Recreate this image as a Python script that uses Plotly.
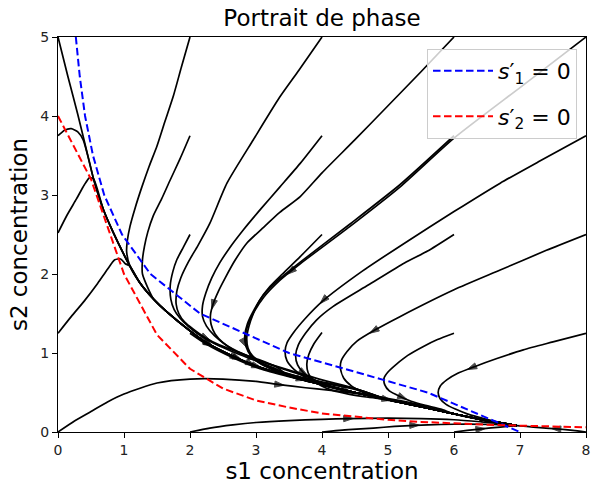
import numpy as np
import plotly.graph_objects as go

# ---------------- nullclines ----------------
null1_s1 = [0.27, 0.33, 0.41, 0.53, 0.70, 0.97, 1.40, 2.15, 3.50, 5.60, 7.00]
null1_s2 = [5.0, 4.5, 4.0, 3.5, 3.0, 2.5, 2.0, 1.5, 1.0, 0.5, 0.0]
null2_s1 = [0.0, 0.5, 1.0, 1.5, 2.0, 2.5, 3.0, 3.5, 4.0, 4.5, 5.0, 5.5, 6.0, 6.5, 7.0, 7.5, 8.0]
null2_s2 = [4.0, 3.2, 2.0, 1.23, 0.8, 0.55, 0.4, 0.31, 0.235, 0.19, 0.154, 0.128, 0.108, 0.092, 0.08, 0.07, 0.06]

# ---------------- shared converging bundle (trajectory from (0, 5)) ----------------
bundle_s1 = [0.0, 0.15, 0.3, 0.46, 0.54, 0.69, 0.84, 0.99, 1.09, 1.24, 1.45, 1.65, 2.0, 2.25, 2.65,
             3.06, 3.5, 4.0, 4.5, 5.0, 5.5, 6.0, 6.4, 6.75, 6.95]
bundle_s2 = [5.0, 4.5, 4.02, 3.47, 3.2, 2.81, 2.52, 2.26, 2.1, 1.89, 1.68, 1.52, 1.28, 1.13, 0.96,
             0.82, 0.71, 0.6, 0.5, 0.41, 0.32, 0.23, 0.16, 0.11, 0.08]

# ---------------- trajectory heads ----------------
# these run straight to the fixed point
t_2_0_s1 = [2.0, 2.3, 2.65, 3.0, 3.5, 4.0, 4.42, 5.0, 5.5, 6.0, 6.4, 6.75, 6.95]
t_2_0_s2 = [0.0, 0.05, 0.09, 0.12, 0.145, 0.16, 0.17, 0.175, 0.17, 0.155, 0.13, 0.105, 0.08]
t_4_0_s1 = [4.0, 4.4, 4.78, 5.1, 5.41, 5.8, 6.2, 6.6, 6.95]
t_4_0_s2 = [0.0, 0.03, 0.05, 0.07, 0.085, 0.095, 0.1, 0.095, 0.08]
t_6_0_s1 = [6.0, 6.2, 6.42, 6.7, 6.95]
t_6_0_s2 = [0.0, 0.02, 0.04, 0.062, 0.08]
t_8_0_s1 = [8.0, 7.8, 7.58, 7.3, 7.1, 6.95]
t_8_0_s2 = [0.0, 0.02, 0.038, 0.055, 0.07, 0.08]
t_8_125_s1 = [8.0, 7.5, 7.05, 6.65, 6.32, 6.05, 5.89, 5.79, 5.76, 5.79, 5.88, 6.02, 6.2, 6.45, 6.7, 6.95]
t_8_125_s2 = [1.25, 1.14, 1.04, 0.93, 0.83, 0.74, 0.66, 0.58, 0.5, 0.42, 0.35, 0.29, 0.23, 0.17, 0.12, 0.08]

# these merge into the bundle
t_0_0_s1 = [0, 0.25, 0.5, 0.75, 1.0, 1.5, 2.0, 2.5, 3.0, 3.35, 3.75, 4.1, 4.5, 4.9, 5.4, 5.9]
t_0_0_s2 = [0, 0.14, 0.26, 0.38, 0.48, 0.62, 0.67, 0.67, 0.64, 0.6, 0.56, 0.53, 0.49, 0.44, 0.36, 0.25]
t_0_125_s1 = [0, 0.2, 0.4, 0.6, 0.75, 0.86, 0.95, 1.02]
t_0_125_s2 = [1.25, 1.46, 1.66, 1.88, 2.06, 2.18, 2.19, 2.13]
t_0_25_s1 = [0, 0.14, 0.28, 0.4, 0.48]
t_0_25_s2 = [2.52, 2.75, 2.95, 3.13, 3.22]
t_0_375_s1 = [0, 0.1, 0.2, 0.3, 0.38]
t_0_375_s2 = [3.75, 3.82, 3.84, 3.8, 3.7]
t_2_5_s1 = [2.0, 1.87, 1.75, 1.62, 1.5, 1.38, 1.27, 1.17, 1.09, 1.05, 1.04]
t_2_5_s2 = [5.0, 4.62, 4.26, 3.93, 3.62, 3.36, 3.1, 2.84, 2.6, 2.42, 2.28]
t_2_375_s1 = [2.0, 1.85, 1.7, 1.57, 1.44, 1.36, 1.31, 1.28, 1.28]
t_2_375_s2 = [3.75, 3.46, 3.19, 2.95, 2.73, 2.53, 2.35, 2.18, 2.0]
t_2_25_s1 = [2.0, 1.9, 1.8, 1.74, 1.7, 1.71, 1.76, 1.85, 1.97, 2.12, 2.3, 2.5, 2.75, 3.0, 3.3]
t_2_25_s2 = [2.5, 2.34, 2.18, 2.03, 1.85, 1.68, 1.55, 1.44, 1.34, 1.24, 1.15, 1.07, 0.98, 0.9, 0.8]
t_2_125_s1 = [2.0, 2.25, 2.65, 3.06, 3.5]
t_2_125_s2 = [1.25, 1.11, 0.94, 0.8, 0.7]
t_4_5_s1 = [4.0, 3.65, 3.36, 2.96, 2.56, 2.3, 2.12, 1.98, 1.86, 1.8, 1.79, 1.83, 1.92, 2.05, 2.22,
            2.45, 2.7, 3.0, 3.3]
t_4_5_s2 = [5.0, 4.58, 4.24, 3.7, 3.15, 2.64, 2.36, 2.16, 1.95, 1.78, 1.62, 1.5, 1.39, 1.3, 1.2,
            1.1, 1.02, 0.93, 0.83]
t_4_375_s1 = [4.0, 3.67, 3.36, 3.08, 2.81, 2.6, 2.45, 2.33, 2.24, 2.19, 2.19, 2.25, 2.37, 2.55, 2.8,
              3.06, 3.4, 3.8]
t_4_375_s2 = [3.75, 3.4, 3.1, 2.83, 2.56, 2.33, 2.14, 1.95, 1.76, 1.6, 1.46, 1.34, 1.22, 1.1, 0.99,
              0.9, 0.8, 0.69]
t_4_25_s1 = [4.0, 3.67, 3.4, 3.21, 3.05, 2.96, 2.89, 2.86, 2.88, 2.95, 3.08, 3.3, 3.6, 4.0, 4.5]
t_4_25_s2 = [2.5, 2.22, 2.0, 1.84, 1.66, 1.5, 1.33, 1.19, 1.06, 0.96, 0.87, 0.79, 0.71, 0.63, 0.55]
t_4_125_s1 = [4.0, 3.88, 3.8, 3.77, 3.79, 3.86, 3.98, 4.15, 4.4, 4.7]
t_4_125_s2 = [1.26, 1.12, 0.98, 0.86, 0.75, 0.66, 0.59, 0.53, 0.48, 0.44]
t_6_5_s1 = [6.0, 5.5, 5.0, 4.5, 4.0, 3.67, 3.36, 3.1, 2.86, 2.68, 2.54, 2.43, 2.35, 2.31, 2.32, 2.38,
            2.5, 2.68, 2.9, 3.2, 3.6, 4.0, 4.5]
t_6_5_s2 = [5.0, 4.56, 4.13, 3.7, 3.28, 2.98, 2.78, 2.58, 2.39, 2.17, 1.96, 1.78, 1.62, 1.48, 1.36,
            1.24, 1.13, 1.03, 0.95, 0.86, 0.76, 0.66, 0.55]
t_6_375_s1 = [6.0, 5.18, 4.42, 3.67, 3.36, 3.11, 2.96, 2.87, 2.83, 2.85, 2.92, 3.04, 3.25, 3.55, 3.95, 4.5]
t_6_375_s2 = [3.75, 3.13, 2.63, 2.15, 1.94, 1.73, 1.53, 1.37, 1.22, 1.08, 0.97, 0.88, 0.79, 0.71, 0.63, 0.54]
t_6_25_s1 = [6.0, 5.6, 5.25, 4.7, 4.17, 3.92, 3.75, 3.64, 3.6, 3.63, 3.72, 3.88, 4.1, 4.4]
t_6_25_s2 = [2.5, 2.29, 2.14, 1.86, 1.59, 1.42, 1.25, 1.1, 0.97, 0.85, 0.75, 0.66, 0.59, 0.52]
t_6_125_s1 = [6.0, 5.75, 5.53, 5.3, 5.13, 5.0, 4.94, 4.95, 5.02, 5.18, 5.35, 5.55, 5.8]
t_6_125_s2 = [1.25, 1.17, 1.08, 0.97, 0.86, 0.76, 0.68, 0.6, 0.52, 0.45, 0.39, 0.34, 0.29]
t_8_5_s1 = [8.0, 7.0, 6.0, 5.18, 4.42, 3.67, 3.36, 3.12, 2.97, 2.88, 2.84, 2.86, 2.93, 3.05, 3.25,
            3.55, 3.95, 4.5]
t_8_5_s2 = [5.0, 4.36, 3.72, 3.1, 2.6, 2.13, 1.92, 1.71, 1.52, 1.36, 1.22, 1.08, 0.97, 0.88, 0.8,
            0.72, 0.64, 0.55]
t_8_375_s1 = [8.0, 7.3, 6.7, 6.0, 5.25, 4.6, 4.0, 3.75, 3.57, 3.47, 3.44, 3.47, 3.58, 3.75, 4.0, 4.3]
t_8_375_s2 = [3.75, 3.43, 3.15, 2.79, 2.39, 2.03, 1.65, 1.44, 1.26, 1.13, 1.02, 0.9, 0.79, 0.69, 0.6, 0.53]
t_8_25_s1 = [8.0, 7.4, 6.7, 6.0, 5.18, 4.8, 4.53, 4.38, 4.29, 4.28, 4.33, 4.45, 4.62, 4.83, 5.2, 5.55]
t_8_25_s2 = [2.5, 2.3, 2.05, 1.8, 1.46, 1.29, 1.15, 1.02, 0.9, 0.8, 0.68, 0.58, 0.5, 0.43, 0.37, 0.31]

direct = [(t_2_0_s1, t_2_0_s2), (t_4_0_s1, t_4_0_s2),
          (t_6_0_s1, t_6_0_s2), (t_8_0_s1, t_8_0_s2), (t_8_125_s1, t_8_125_s2),
          (bundle_s1, bundle_s2)]
merging = [(t_0_0_s1, t_0_0_s2), (t_0_125_s1, t_0_125_s2), (t_0_25_s1, t_0_25_s2),
           (t_0_375_s1, t_0_375_s2),
           (t_2_5_s1, t_2_5_s2), (t_2_375_s1, t_2_375_s2), (t_2_25_s1, t_2_25_s2),
           (t_2_125_s1, t_2_125_s2), (t_4_5_s1, t_4_5_s2), (t_4_375_s1, t_4_375_s2),
           (t_4_25_s1, t_4_25_s2), (t_4_125_s1, t_4_125_s2), (t_6_5_s1, t_6_5_s2),
           (t_6_375_s1, t_6_375_s2), (t_6_25_s1, t_6_25_s2), (t_6_125_s1, t_6_125_s2),
           (t_8_5_s1, t_8_5_s2), (t_8_375_s1, t_8_375_s2), (t_8_25_s1, t_8_25_s2)]


def join_bundle(h1, h2):
    last = h1[-1]
    x = list(h1) + [a for a in bundle_s1 if a > last + 0.04]
    y = list(h2) + [b for a, b in zip(bundle_s1, bundle_s2) if a > last + 0.04]
    return x, y


trajectories = [(list(a), list(b)) for a, b in direct] + [join_bundle(a, b) for a, b in merging]


def midpoint_arrow(x, y):
    x = np.asarray(x, float)
    y = np.asarray(y, float)
    seg = np.hypot(np.diff(x), np.diff(y))
    s = np.concatenate([[0], np.cumsum(seg)])
    half = s[-1] / 2
    i = int(np.searchsorted(s, half)) - 1
    i = max(0, min(i, len(seg) - 1))
    f = (half - s[i]) / seg[i]
    mx = x[i] + f * (x[i + 1] - x[i])
    my = y[i] + f * (y[i + 1] - y[i])
    px = mx - 0.02 * (x[i + 1] - x[i])
    py = my - 0.02 * (y[i + 1] - y[i])
    return [px, mx], [py, my]


fig = go.Figure()
for x, y in trajectories:
    fig.add_trace(go.Scatter(x=x, y=y, mode="lines", showlegend=False, hoverinfo="skip",
                             line=dict(color="black", width=1.7, shape="spline", smoothing=0.6)))
for x, y in trajectories:
    ax, ay = midpoint_arrow(x, y)
    fig.add_trace(go.Scatter(x=ax, y=ay, mode="markers", showlegend=False, hoverinfo="skip",
                             marker=dict(symbol="arrow", size=[0, 10], angleref="previous",
                                         color="black", line=dict(width=1, color="black"))))

fig.add_trace(go.Scatter(x=null1_s1, y=null1_s2, mode="lines", name="<i>s</i>′<sub>1</sub> = 0",
                         legendgroup="a",
                         line=dict(color="blue", width=2, dash="7.5px,3.5px")))
fig.add_trace(go.Scatter(x=null2_s1, y=null2_s2, mode="lines", name="<i>s</i>′<sub>2</sub> = 0",
                         legendgroup="b",
                         line=dict(color="red", width=2, dash="7.5px,3.5px")))

axis_common = dict(showline=True, linecolor="black", linewidth=1, mirror=True,
                   ticks="outside", ticklen=5, tickwidth=1, tickcolor="black",
                   showgrid=False, zeroline=False, automargin=False,
                   tickfont=dict(family="DejaVu Sans", size=14, color="#222"))

fig.update_layout(
    width=592, height=485,
    margin=dict(l=58, r=6, t=37, b=53, autoexpand=False),
    plot_bgcolor="white", paper_bgcolor="white",
    font=dict(family="DejaVu Sans", color="black"),
    title=dict(text="Portrait de phase", x=0.5, xref="paper", xanchor="center",
               y=1 - 18 / 485, yref="container", yanchor="middle",
               font=dict(family="DejaVu Sans", size=23, color="black")),
    xaxis=dict(range=[0, 8], dtick=1, tick0=0,
               title=dict(text="s1 concentration", standoff=5,
                          font=dict(family="DejaVu Sans", size=23, color="black")),
               **axis_common),
    yaxis=dict(range=[0, 5], dtick=1, tick0=0,
               title=dict(text="s2 concentration", standoff=6,
                          font=dict(family="DejaVu Sans", size=23, color="black")),
               **axis_common),
    legend=dict(x=0.983, y=0.97, xanchor="right", yanchor="top",
                bgcolor="rgba(255,255,255,0.8)", bordercolor="#cccccc", borderwidth=1,
                font=dict(family="DejaVu Sans", size=22, color="black"),
                tracegroupgap=14, itemwidth=60),
)

fig.write_html("out.html", config={"displayModeBar": False},
               post_script="document.body.style.margin='0';document.body.style.padding='0';")
